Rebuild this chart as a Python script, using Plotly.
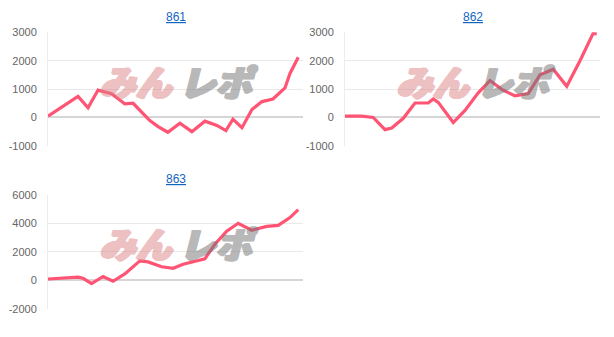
import plotly.graph_objects as go

W, H = 614, 337

titles = ["861", "862", "863"]

games_861 = [0, 1200, 1600, 2000, 2540, 3070, 3400, 3870, 4070, 4400, 4790, 5270, 5750,
             6270, 6750, 7110, 7390, 7750, 8150, 8550, 8990, 9470, 9670, 10000]
diff_861 = [50, 740, 340, 965, 840, 476, 500, 80, -110, -320, -520, -200, -500,
            -130, -280, -460, -60, -360, 280, 560, 650, 1040, 1550, 2120]

games_862 = [0, 670, 1130, 1600, 1870, 2330, 2800, 3330, 3530, 3730, 4330, 4800, 5330,
             5800, 6270, 6800, 7330, 7800, 8330, 8870, 9400, 9930, 10070]
diff_862 = [45, 45, 0, -430, -370, -30, 510, 510, 650, 530, -180, 250, 870,
            1300, 990, 760, 840, 1500, 1700, 1100, 2000, 2970, 2940]

games_863 = [0, 400, 800, 1200, 1400, 1740, 2200, 2600, 3070, 3670, 4000, 4540, 5000,
             5400, 6270, 6670, 7140, 7600, 8140, 8740, 9200, 9670, 10000]
diff_863 = [90, 140, 180, 225, 140, -225, 270, -70, 450, 1360, 1290, 950, 840,
            1130, 1510, 2530, 3440, 4000, 3510, 3780, 3850, 4400, 4960]

yticks_a = [-1000, 0, 1000, 2000, 3000]
yticks_b = [-2000, 0, 2000, 4000, 6000]

series = [(games_861, diff_861), (games_862, diff_862), (games_863, diff_863)]

# panel pixel boxes (left, right, top, bottom)
boxes = [(48, 303, 27.3, 145.0), (345, 600, 27.3, 145.0), (48, 303, 195.7, 314.0)]
xranges = [[0, 10190], [0, 10200], [0, 10190]]
yranges = [[-1000, 3000], [-1000, 3000], [-2000, 6000]]
ytickss = [yticks_a, yticks_a, yticks_b]

LINE = "#ff5473"
FONT = "Liberation Sans, Arial, sans-serif"
PINK = "#dd8286"
GRAY = "#747474"


def thick(c):
    return (f"1px 0 0 {c}, 2px 0 0 {c}, 0 1px 0 {c}, 1px 1px 0 {c}, "
            f"2px 1px 0 {c}, -1px 0 0 {c}")


fig = go.Figure()
annotations = []
for i, ((gx, gy), (l, r, t, b)) in enumerate(zip(series, boxes)):
    n = "" if i == 0 else str(i + 1)
    fig.add_trace(go.Scatter(x=gx, y=gy, mode="lines",
                             line=dict(color=LINE, width=3.2),
                             xaxis="x" + n, yaxis="y" + n,
                             hoverinfo="skip", showlegend=False))
    fig.update_layout(**{
        "xaxis" + n: dict(domain=[l / W, r / W], range=xranges[i], anchor="y" + n,
                          showticklabels=False, showgrid=False, zeroline=False,
                          showline=False, ticks="", fixedrange=True),
        "yaxis" + n: dict(domain=[1 - b / H, 1 - t / H], range=yranges[i], anchor="x" + n,
                          tickvals=ytickss[i], ticktext=[str(v) for v in ytickss[i]],
                          showgrid=True, gridcolor="#e9e9e9", gridwidth=1,
                          zeroline=True, zerolinecolor="#d6d6d6", zerolinewidth=1.5,
                          showline=True, linecolor="#ececec", linewidth=1,
                          tickfont=dict(family=FONT, size=11, color="#666666"),
                          ticks="", ticklabelstandoff=8, fixedrange=True),
    })
    cx = (l + r) / 2
    annotations.append(dict(x=cx / W, y=1 - (t - 16) / H, xref="paper", yref="paper",
                            text="<u>" + titles[i] + "</u>", showarrow=False,
                            font=dict(family=FONT, size=12, color="#1565c0"),
                            xanchor="center", yanchor="middle"))
    wy = 1 - (t + 49) / H
    annotations.append(dict(x=(cx - 1) / W, y=wy, xref="paper", yref="paper",
                            text="<i>みん</i>", showarrow=False, opacity=0.5,
                            font=dict(family="Noto Sans CJK JP", size=36, weight=900,
                                      color=PINK, shadow=thick(PINK)),
                            xanchor="right", yanchor="middle"))
    annotations.append(dict(x=(cx + 1) / W, y=wy, xref="paper", yref="paper",
                            text="<i>レポ</i>", showarrow=False, opacity=0.5,
                            font=dict(family="Noto Sans CJK JP", size=36, weight=900,
                                      color=GRAY, shadow=thick(GRAY)),
                            xanchor="left", yanchor="middle"))

fig.update_layout(width=W, height=H, margin=dict(l=0, r=0, t=0, b=0),
                  paper_bgcolor="white", plot_bgcolor="white",
                  annotations=annotations, showlegend=False)
fig.write_html("out.html", config={"displayModeBar": False})
